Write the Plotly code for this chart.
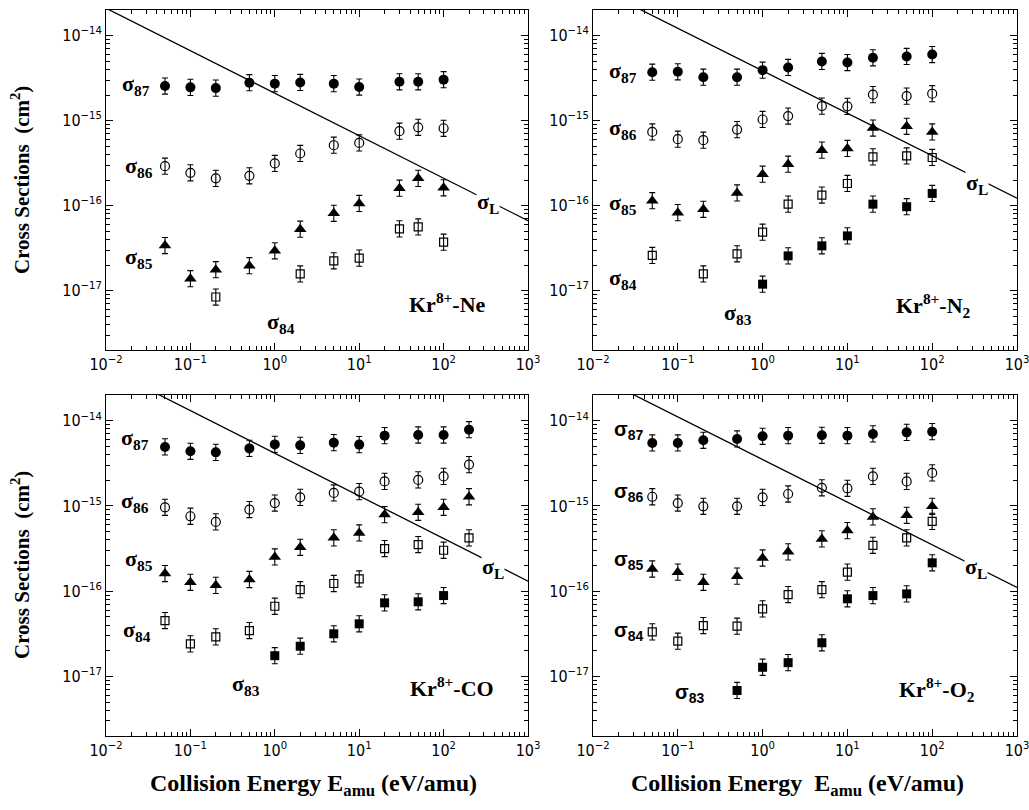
import plotly.graph_objects as go

# ---------------- data: charge-changing cross sections (cm^2) ----------------
# Kr8+ - Ne
NE_E = [0.05, 0.1, 0.2, 0.5, 1, 2, 5, 10, 30, 50, 100]
NE_S87 = [2.55e-15, 2.46e-15, 2.41e-15, 2.79e-15, 2.72e-15, 2.81e-15, 2.72e-15, 2.48e-15, 2.86e-15, 2.86e-15, 3.03e-15]
NE_S86 = [2.91e-16, 2.43e-16, 2.09e-16, 2.24e-16, 3.13e-16, 4.1e-16, 5.13e-16, 5.46e-16, 7.5e-16, 8.34e-16, 8.12e-16]
NE_S85 = [3.39e-17, 1.38e-17, 1.76e-17, 1.96e-17, 2.94e-17, 5.27e-17, 8.12e-17, 1.06e-16, 1.6e-16, 2.09e-16, 1.62e-16]
NE_E84 = [0.2, 2, 5, 10, 30, 50, 100]
NE_S84 = [8.4e-18, 1.57e-17, 2.24e-17, 2.41e-17, 5.32e-17, 5.61e-17, 3.71e-17]

# Kr8+ - N2
N2_E = [0.05, 0.1, 0.2, 0.5, 1, 2, 5, 10, 20, 50, 100]
N2_S87 = [3.71e-15, 3.75e-15, 3.24e-15, 3.24e-15, 3.92e-15, 4.22e-15, 4.96e-15, 4.82e-15, 5.48e-15, 5.68e-15, 5.98e-15]
N2_S86 = [7.35e-16, 6.04e-16, 5.88e-16, 7.83e-16, 1.03e-15, 1.13e-15, 1.48e-15, 1.47e-15, 2.02e-15, 1.94e-15, 2.07e-15]
N2_S85 = [1.14e-16, 8.26e-17, 9.05e-17, 1.41e-16, 2.34e-16, 3.07e-16, 4.49e-16, 4.7e-16, 8.18e-16, 8.57e-16, 7.35e-16]
N2_E84 = [0.05, 0.2, 0.5, 1, 2, 5, 10, 20, 50, 100]
N2_S84 = [2.59e-17, 1.57e-17, 2.71e-17, 4.86e-17, 1.04e-16, 1.33e-16, 1.82e-16, 3.74e-16, 3.84e-16, 3.68e-16]
N2_E83 = [1, 2, 5, 10, 20, 50, 100]
N2_S83 = [1.19e-17, 2.56e-17, 3.36e-17, 4.4e-17, 1.04e-16, 9.7e-17, 1.39e-16]

# Kr8+ - CO
CO_E = [0.05, 0.1, 0.2, 0.5, 1, 2, 5, 10, 20, 50, 100, 200]
CO_S87 = [4.92e-15, 4.37e-15, 4.25e-15, 4.73e-15, 5.27e-15, 5.13e-15, 5.52e-15, 5.24e-15, 6.67e-15, 6.79e-15, 6.79e-15, 7.83e-15]
CO_S86 = [9.63e-16, 7.56e-16, 6.49e-16, 9.06e-16, 1.08e-15, 1.26e-15, 1.42e-15, 1.47e-15, 1.94e-15, 2.02e-15, 2.22e-15, 3.05e-15]
CO_S85 = [1.61e-16, 1.27e-16, 1.17e-16, 1.37e-16, 2.52e-16, 3.27e-16, 4.22e-16, 4.82e-16, 7.91e-16, 8.41e-16, 9.63e-16, 1.28e-15]
CO_S84 = [4.52e-17, 2.41e-17, 2.91e-17, 3.45e-17, 6.65e-17, 1.04e-16, 1.23e-16, 1.39e-16, 3.16e-16, 3.52e-16, 3.02e-16, 4.22e-16]
CO_E83 = [1, 2, 5, 10, 20, 50, 100]
CO_S83 = [1.75e-17, 2.26e-17, 3.16e-17, 4.14e-17, 7.29e-17, 7.5e-17, 8.88e-17]

# Kr8+ - O2
O2_E = [0.05, 0.1, 0.2, 0.5, 1, 2, 5, 10, 20, 50, 100]
O2_S87 = [5.48e-15, 5.48e-15, 5.88e-15, 6.1e-15, 6.55e-15, 6.67e-15, 6.73e-15, 6.67e-15, 6.99e-15, 7.29e-15, 7.43e-15]
O2_S86 = [1.28e-15, 1.08e-15, 9.89e-16, 9.89e-16, 1.26e-15, 1.38e-15, 1.63e-15, 1.61e-15, 2.22e-15, 1.94e-15, 2.44e-15]
O2_S85 = [1.82e-16, 1.67e-16, 1.27e-16, 1.5e-16, 2.45e-16, 2.89e-16, 4.1e-16, 5.13e-16, 7.43e-16, 7.76e-16, 9.89e-16]
O2_S84 = [3.33e-17, 2.59e-17, 3.95e-17, 3.88e-17, 6.2e-17, 9.12e-17, 1.04e-16, 1.67e-16, 3.45e-16, 4.22e-16, 6.59e-16]
O2_E83 = [0.5, 1, 2, 5, 10, 20, 50, 100]
O2_S83 = [6.84e-18, 1.28e-17, 1.45e-17, 2.48e-17, 8.13e-17, 8.87e-17, 9.29e-17, 2.15e-16]

# Langevin cross section sigma_L, end points of the line over the energy axis
LANGEVIN_E = [0.01, 1000]
LANGEVIN_NE = [2.1e-14, 6.64e-17]
LANGEVIN_N2 = [3.85e-14, 1.22e-16]
LANGEVIN_CO = [4.15e-14, 1.31e-16]
LANGEVIN_O2 = [3.5e-14, 1.107e-16]

# relative uncertainty (decades, symmetric in log space)
ERR_DEX = 0.095

# ---------------- styling ----------------
SERIF = "Liberation Serif, Times New Roman, serif"
SANS = "Liberation Sans, Arial, sans-serif"
NARROW = "Liberation Sans Narrow, Arial Narrow, DejaVu Sans Condensed, sans-serif"
MARKERS = {
    "87": dict(symbol="circle", size=10, color="black"),
    "86": dict(symbol="circle-open", size=9, color="black", line=dict(width=1.2, color="black")),
    "85": dict(symbol="triangle-up", size=11, color="black"),
    "84": dict(symbol="square-open", size=8, color="black", line=dict(width=1.2, color="black")),
    "83": dict(symbol="square", size=9, color="black"),
}

fig = go.Figure()

W, H = 1029, 810
# plot areas in pixels (left, right, top, bottom)
PANELS = [
    (106, 528, 10, 350),
    (593, 1017, 10, 350),
    (106, 528, 395, 736),
    (593, 1017, 395, 736),
]

X_TICKS = [0.01, 0.1, 1, 10, 100, 1000]
X_TEXT = ["10<sup>−2</sup>", "10<sup>−1</sup>", "10<sup>0</sup>", "10<sup>1</sup>", "10<sup>2</sup>", "10<sup>3</sup>"]
Y_TICKS = [1e-17, 1e-16, 1e-15, 1e-14]
Y_TEXT = ["10<sup>−17</sup>", "10<sup>−16</sup>", "10<sup>−15</sup>", "10<sup>−14</sup>"]
X_MINOR = [m * 10.0 ** p for p in range(-2, 3) for m in range(2, 10)]
Y_MINOR = [m * 10.0 ** p for p in range(-18, -13) for m in range(2, 10)]


def err(vals):
    up = [v * (10 ** ERR_DEX - 1) for v in vals]
    dn = [v * (1 - 10 ** -ERR_DEX) for v in vals]
    return dict(type="data", array=up, arrayminus=dn, symmetric=False,
                color="black", thickness=1.1, width=3)


def add_series(i, e, s, key):
    xa = "x" if i == 0 else f"x{i+1}"
    ya = "y" if i == 0 else f"y{i+1}"
    fig.add_trace(go.Scatter(x=e, y=s, mode="markers", marker=MARKERS[key],
                             error_y=err(s), xaxis=xa, yaxis=ya,
                             showlegend=False, hoverinfo="x+y"))


def add_langevin(i, s):
    xa = "x" if i == 0 else f"x{i+1}"
    ya = "y" if i == 0 else f"y{i+1}"
    fig.add_trace(go.Scatter(x=LANGEVIN_E, y=s, mode="lines",
                             line=dict(color="black", width=1.3),
                             xaxis=xa, yaxis=ya, showlegend=False, hoverinfo="skip"))


SETS = [
    [(NE_E, NE_S87, "87"), (NE_E, NE_S86, "86"), (NE_E, NE_S85, "85"), (NE_E84, NE_S84, "84")],
    [(N2_E, N2_S87, "87"), (N2_E, N2_S86, "86"), (N2_E, N2_S85, "85"), (N2_E84, N2_S84, "84"), (N2_E83, N2_S83, "83")],
    [(CO_E, CO_S87, "87"), (CO_E, CO_S86, "86"), (CO_E, CO_S85, "85"), (CO_E, CO_S84, "84"), (CO_E83, CO_S83, "83")],
    [(O2_E, O2_S87, "87"), (O2_E, O2_S86, "86"), (O2_E, O2_S85, "85"), (O2_E, O2_S84, "84"), (O2_E83, O2_S83, "83")],
]
LANGEVIN = [LANGEVIN_NE, LANGEVIN_N2, LANGEVIN_CO, LANGEVIN_O2]

for i in range(4):
    add_langevin(i, LANGEVIN[i])
    for e, s, k in SETS[i]:
        add_series(i, e, s, k)

layout = dict(width=W, height=H, margin=dict(l=0, r=0, t=0, b=0, autoexpand=False),
              paper_bgcolor="white", plot_bgcolor="white", showlegend=False)

for i, (l, r, t, b) in enumerate(PANELS):
    sfx = "" if i == 0 else str(i + 1)
    common = dict(type="log", showgrid=False, zeroline=False, showline=True,
                  linecolor="black", linewidth=1, mirror="allticks", automargin=False,
                  ticks="inside", ticklen=7, tickwidth=1, tickcolor="black",
                  tickmode="array", ticklabeloverflow="allow",
                  tickfont=dict(family=NARROW, size=16, color="black"))
    layout["xaxis" + sfx] = dict(
        common, domain=[l / W, r / W], range=[-2, 3],
        tickvals=X_TICKS, ticktext=X_TEXT, anchor="y" + sfx,
        minor=dict(tickmode="array", tickvals=X_MINOR, ticks="inside", ticklen=4,
                   tickcolor="black", showgrid=False))
    layout["yaxis" + sfx] = dict(
        common, domain=[1 - b / H, 1 - t / H], range=[-17.699, -13.699],
        tickvals=Y_TICKS, ticktext=Y_TEXT, anchor="x" + sfx,
        minor=dict(tickmode="array", tickvals=Y_MINOR, ticks="inside", ticklen=4,
                   tickcolor="black", showgrid=False))

ann = []


def label(i, x, y, text, size=22, font=SERIF, anchor="left", bg=None):
    sfx = "" if i == 0 else str(i + 1)
    a = dict(xref="x" + sfx, yref="y" + sfx, x=x, y=y, text=text, showarrow=False,
             xanchor=anchor, yanchor="middle",
             font=dict(family=font, size=size, color="black"))
    if bg:
        a.update(bgcolor=bg, borderpad=0)
    ann.append(a)


def sig(n):
    return f"<b>σ<sub>{n}</sub></b>"


# Kr8+-Ne
label(0, -1.83, -14.58, sig(87))
label(0, -1.80, -15.55, sig(86))
label(0, -1.80, -16.62, sig(85))
label(0, -0.12, -17.38, sig(84))
label(0, 2.53, -15.97, sig("L"), anchor="center", bg="white")
label(0, 2.05, -17.15, "<b>Kr<sup>8+</sup>-Ne</b>", size=22, anchor="center")
# Kr8+-N2
label(1, -1.83, -14.43, sig(87))
label(1, -1.83, -15.10, sig(86))
label(1, -1.83, -15.98, sig(85))
label(1, -1.83, -16.86, sig(84))
label(1, -0.48, -17.28, sig(83))
label(1, 2.53, -15.75, sig("L"), anchor="center", bg="white")
label(1, 2.02, -17.17, "<b>Kr<sup>8+</sup>-N<sub>2</sub></b>", size=22, anchor="center")
# Kr8+-CO
label(2, -1.85, -14.22, sig(87))
label(2, -1.85, -14.95, sig(86))
label(2, -1.80, -15.63, sig(85))
label(2, -1.82, -16.47, sig(84))
label(2, -0.53, -17.10, sig(83))
label(2, 2.59, -15.73, sig("L"), anchor="center", bg="white")
label(2, 2.10, -17.13, "<b>Kr<sup>8+</sup>-CO</b>", size=22, anchor="center")
# Kr8+-O2
label(3, -1.78, -14.12, sig(87), font=SANS, size=20)
label(3, -1.78, -14.84, sig(86), font=SANS, size=20)
label(3, -1.78, -15.64, sig(85), font=SANS, size=20)
label(3, -1.78, -16.47, sig(84), font=SANS, size=20)
label(3, -1.06, -17.20, sig(83), font=SANS, size=20)
label(3, 2.52, -15.73, sig("L"), anchor="center", bg="white")
label(3, 2.06, -17.15, "<b>Kr<sup>8+</sup>-O<sub>2</sub></b>", size=22, anchor="center")

# axis titles
YT = "<b>Cross Sections  (cm<sup>2</sup>)</b>"
for yc in (1 - 180 / H, 1 - 565 / H):
    ann.append(dict(xref="paper", yref="paper", x=20 / W, y=yc, text=YT, textangle=-90,
                    showarrow=False, xanchor="center", yanchor="middle",
                    font=dict(family=SERIF, size=21, color="black")))
ann.append(dict(xref="paper", yref="paper", x=313 / W, y=1 - 785 / H,
                text="<b>Collision Energy E<sub>amu</sub> (eV/amu)</b>",
                showarrow=False, xanchor="center", yanchor="middle",
                font=dict(family=SERIF, size=24, color="black")))
ann.append(dict(xref="paper", yref="paper", x=797 / W, y=1 - 785 / H,
                text="<b>Collision Energy  E<sub>amu</sub> (eV/amu)</b>",
                showarrow=False, xanchor="center", yanchor="middle",
                font=dict(family=SERIF, size=24, color="black")))

layout["annotations"] = ann
fig.update_layout(**layout)
fig.write_html("out.html")
